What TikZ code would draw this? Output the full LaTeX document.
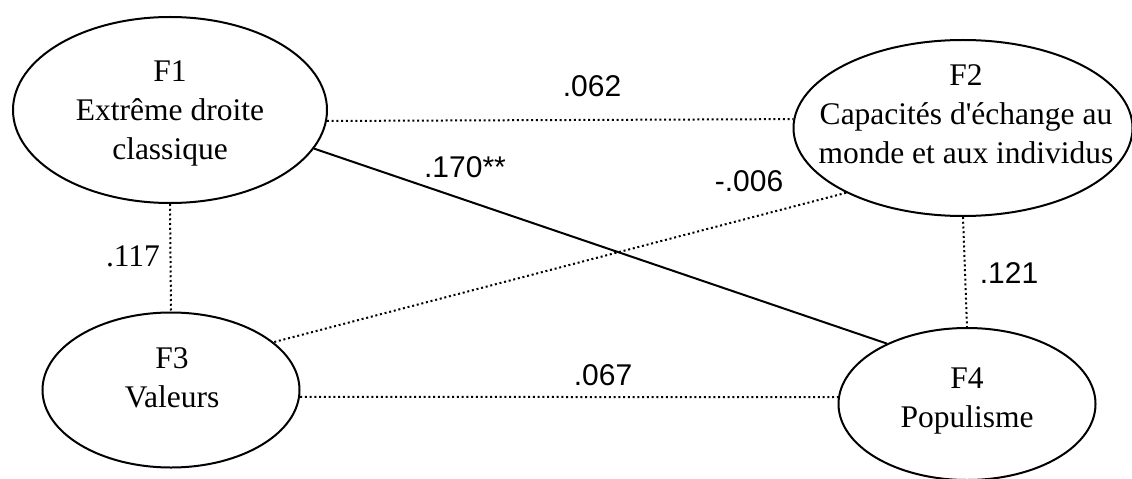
\documentclass[tikz,border=0pt]{standalone}
\usepackage{fontspec}
\setmainfont{Liberation Serif}
\newfontfamily\coeffont{Liberation Sans}
\usetikzlibrary{shapes.geometric}

\begin{document}
\begin{tikzpicture}[x=0.4pt, y=-0.4pt,
  factor/.style={draw, ellipse, line width=0.8pt, inner sep=0pt},
  ftext/.style={align=center, font=\fontsize{12.6}{15.6}\selectfont},
  coef/.style={font=\coeffont\fontsize{12}{14}\selectfont, inner sep=0pt},
  weak/.style={line width=0.8pt, dash pattern=on 0.8pt off 1.1pt},
  strong/.style={line width=0.8pt}]
\useasboundingbox (0,0) rectangle (1132,479);

\node[factor, minimum width=125.6pt, minimum height=74.4pt] (F1) at (170,110) {};
\node[factor, minimum width=135.6pt, minimum height=70.4pt] (F2) at (963,128) {};
\node[factor, minimum width=102.8pt, minimum height=62pt] (F3) at (171,390) {};
\node[factor, minimum width=102.8pt, minimum height=60.8pt] (F4) at (967,404) {};

\node[ftext] (F1txt) at (170,113) {F1\\Extrême droite\\classique};
\node[ftext] (F2txt) at (966,114) {F2\\Capacités d\textquotesingle échange au\\monde et aux individus};
\node[ftext] (F3txt) at (172,378) {F3\\Valeurs};
\node[ftext] (F4txt) at (967,401) {F4\\Populisme};

\draw[weak] (F1.-4) -- (F2.177.6);
\draw[strong] (F1.345.5) -- (F4.143);
\draw[weak] (F2.209.5) -- (F3.25);
\draw[weak] (F1.south) -- (F3.north);
\draw[weak] (F2.south) -- (F4.north);
\draw[weak] (F3.-3.6) -- (F4.177.3);

\node[coef] (c12) at (592,86) {.062};
\node[coef] (c14) at (465,167) {.170**};
\node[coef] (c23) at (749,181) {-.006};
\node[ftext] (c13) at (133,256) {.117};
\node[coef] (c24) at (1009,273) {.121};
\node[coef] (c34) at (603,375) {.067};
\end{tikzpicture}
\end{document}
